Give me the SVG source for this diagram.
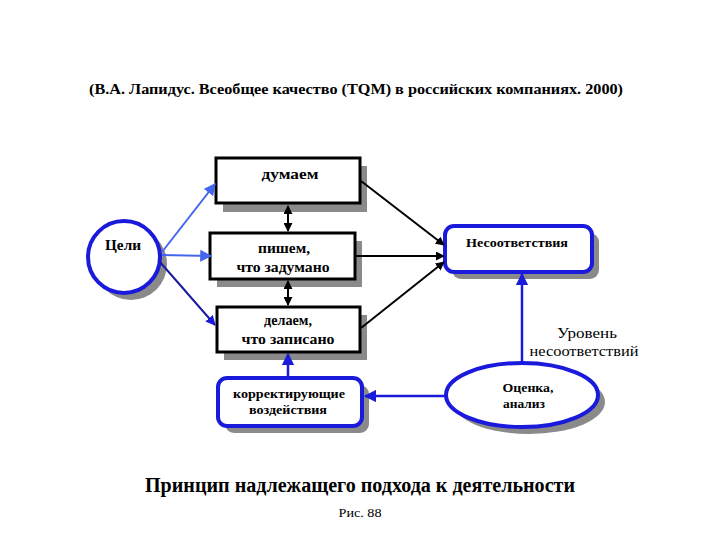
<svg xmlns="http://www.w3.org/2000/svg" width="720" height="540" viewBox="0 0 720 540">
<defs>
<marker id="ab" viewBox="0 0 10 10" refX="9" refY="5" markerWidth="4.5" markerHeight="4.5" orient="auto-start-reverse"><path d="M0,0 L10,5 L0,10 z" fill="#000"/></marker>
<marker id="au" viewBox="0 0 10 10" refX="9" refY="5" markerWidth="5" markerHeight="5" orient="auto"><path d="M0,0 L10,5 L0,10 z" fill="#1a1adc"/></marker>
<marker id="al" viewBox="0 0 10 10" refX="9" refY="5" markerWidth="6" markerHeight="6" orient="auto"><path d="M0,0 L10,5 L0,10 z" fill="#4466ee"/></marker>
</defs>
<style>
text{font-family:"Liberation Serif","Times New Roman",serif;fill:#000;text-anchor:middle}
.b{font-weight:bold;font-size:14px}
.s{font-size:13px}
.sh{fill:#8a8a8a}
.bx{fill:#fff;stroke:#000;stroke-width:3}
.bl{fill:#fff;stroke:#1a1adc;stroke-width:4}
.k{stroke:#000;stroke-width:2;fill:none}
.u{stroke:#1a1adc;stroke-width:2.5;fill:none}
.l{stroke:#4466ee;stroke-width:2;fill:none}
</style>
<rect width="720" height="540" fill="#fff"/>
<text x="356" y="94" style="font-weight:bold;font-size:15.5px" textLength="534" lengthAdjust="spacingAndGlyphs">(В.А. Лапидус. Всеобщее качество (TQM) в российских компаниях.  2000)</text>

<g id="n-think">
<rect class="sh" x="223" y="166" width="144" height="46"/>
<rect class="bx" x="216" y="158" width="144" height="45"/>
<text class="b" x="290" y="179" textLength="57" lengthAdjust="spacingAndGlyphs">думаем</text>
</g>
<g id="n-write">
<rect class="sh" x="217" y="241" width="145" height="46"/>
<rect class="bx" x="210" y="233" width="145" height="46"/>
<text class="b" x="284" y="253" textLength="52" lengthAdjust="spacingAndGlyphs">пишем,</text>
<text class="b" x="283" y="272" textLength="93" lengthAdjust="spacingAndGlyphs">что задумано</text>
</g>
<g id="n-do">
<rect class="sh" x="224" y="315" width="143" height="45"/>
<rect class="bx" x="217" y="307" width="143" height="45"/>
<text class="b" x="288" y="325" textLength="48" lengthAdjust="spacingAndGlyphs">делаем,</text>
<text class="b" x="288" y="344" textLength="93" lengthAdjust="spacingAndGlyphs">что записано</text>
</g>
<g id="n-goals">
<circle class="sh" cx="131" cy="264" r="36"/>
<circle class="bl" cx="124" cy="257" r="36"/>
<text class="b" x="123" y="250" textLength="36" lengthAdjust="spacingAndGlyphs">Цели</text>
</g>
<g id="n-nonconf">
<rect class="sh" x="452" y="233" width="147" height="46" rx="9"/>
<rect class="bl" x="445" y="226" width="147" height="46" rx="9"/>
<text class="b" x="517" y="247" style="font-size:13px" textLength="102" lengthAdjust="spacingAndGlyphs">Несоответствия</text>
</g>
<g id="n-correct">
<rect class="sh" x="225" y="385" width="144" height="48" rx="9"/>
<rect class="bl" x="218" y="378" width="144" height="48" rx="9"/>
<text class="b" x="289" y="398" style="font-size:13px" textLength="112" lengthAdjust="spacingAndGlyphs">корректирующие</text>
<text class="b" x="288" y="414" style="font-size:13px" textLength="78" lengthAdjust="spacingAndGlyphs">воздействия</text>
</g>
<g id="n-eval">
<ellipse class="sh" cx="529" cy="402" rx="76" ry="32"/>
<ellipse class="bl" cx="522" cy="395" rx="76" ry="32"/>
<text class="b" x="528" y="392" style="font-size:13px" textLength="51" lengthAdjust="spacingAndGlyphs">Оценка,</text>
<text class="b" x="524" y="408" style="font-size:13px" textLength="42" lengthAdjust="spacingAndGlyphs">анализ</text>
</g>

<g id="connectors">
<line class="l" x1="162" y1="252" x2="215" y2="184" marker-end="url(#al)"/>
<line class="l" x1="162" y1="255" x2="211" y2="256" marker-end="url(#al)"/>
<line x1="160" y1="262" x2="215" y2="325" stroke="#1a1a9c" stroke-width="2" marker-end="url(#au)"/>
<line class="k" x1="288" y1="206" x2="288" y2="231" marker-start="url(#ab)" marker-end="url(#ab)"/>
<line class="k" x1="288" y1="281" x2="288" y2="305" marker-start="url(#ab)" marker-end="url(#ab)"/>
<line class="k" x1="361" y1="181" x2="444" y2="245" marker-end="url(#ab)"/>
<line class="k" x1="356" y1="256" x2="444" y2="256" marker-end="url(#ab)"/>
<line class="k" x1="361" y1="328" x2="444" y2="262" marker-end="url(#ab)"/>
<line class="u" x1="522" y1="363" x2="522" y2="274" marker-end="url(#au)"/>
<line class="u" x1="446" y1="396" x2="365" y2="396" marker-end="url(#au)"/>
<line class="u" x1="288" y1="378" x2="288" y2="354" marker-end="url(#au)"/>
</g>

<text x="587" y="338" style="font-size:15px" textLength="60" lengthAdjust="spacingAndGlyphs">Уровень</text>
<text x="584" y="356" style="font-size:15px" textLength="109" lengthAdjust="spacingAndGlyphs">несоответствий</text>

<text x="360" y="492" style="font-weight:bold;font-size:20px" textLength="430" lengthAdjust="spacingAndGlyphs">Принцип надлежащего подхода к деятельности</text>
<text x="360" y="517" class="s" textLength="43" lengthAdjust="spacingAndGlyphs">Рис. 88</text>
</svg>
